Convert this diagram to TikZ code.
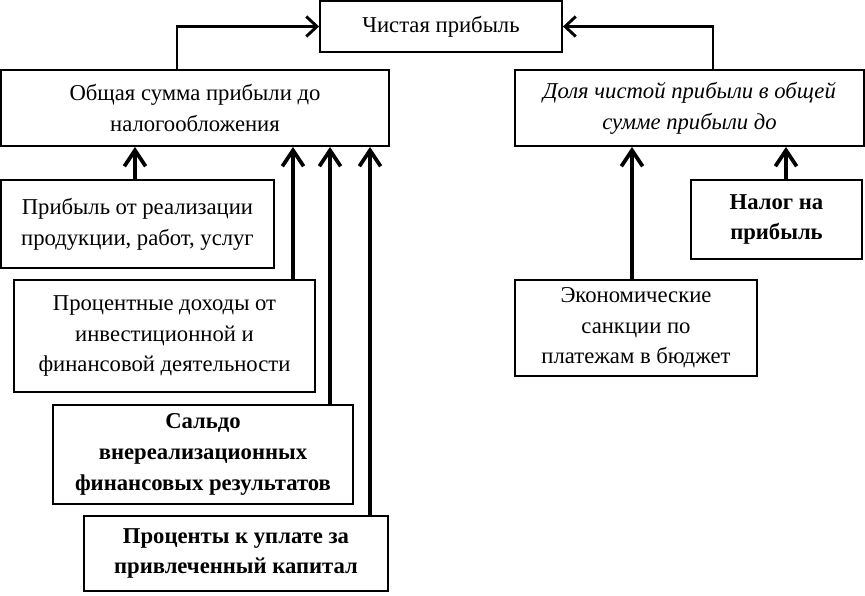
\documentclass[tikz,border=0pt]{standalone}
\usepackage{fontspec}
\setmainfont{Liberation Serif}
\usetikzlibrary{arrows.meta}
\tikzset{
  box/.style={draw, line width=1.4pt, rectangle, align=center, inner sep=0pt,
    font=\fontsize{17}{23}\selectfont},
  boxsize/.style 2 args={minimum width=#1*0.75pt, minimum height=#2*0.75pt},
  toparrow/.style={line width=2.2pt, -{Straight Barb[length=8pt,width=15pt]}},
  uparrow/.style={line width=2.8pt, -{Straight Barb[length=12pt,width=16pt]}}
}
\begin{document}
\begin{tikzpicture}[x=0.75pt,y=-0.75pt]
    \useasboundingbox (0,0) rectangle (865,596);
    \node[box, boxsize={242}{51}] (net) at (441,26.5) {Чистая прибыль};
    \node[box, boxsize={388}{76}] (total) at (195,108)
        {Общая сумма прибыли до\\налогообложения};
    \node[box, boxsize={349}{76}, font=\fontsize{17}{23}\selectfont\itshape] (share) at (689.5,108)
        {Доля чистой прибыли в общей\\сумме прибыли до};
    \node[box, boxsize={273}{88}] (sales) at (137.5,224)
        {Прибыль от реализации\\продукции, работ, услуг};
    \node[box, boxsize={301}{112}] (income) at (164.5,336)
        {Процентные доходы от\\инвестиционной и\\финансовой деятельности};
    \node[box, boxsize={300}{99}, font=\fontsize{17}{23}\selectfont\bfseries] (saldo) at (203,454.5)
        {Сальдо\\внереализационных\\финансовых результатов};
    \node[box, boxsize={304}{75}, font=\fontsize{17}{23}\selectfont\bfseries] (paid) at (236,553.5)
        {Проценты к уплате за\\привлеченный капитал};
    \node[box, boxsize={242}{96}] (sanct) at (636,328)
        {Экономические\\санкции по\\платежам в бюджет};
    \node[box, boxsize={171}{79}, font=\fontsize{17}{23}\selectfont\bfseries] (tax) at (776.5,219.5)
        {Налог на\\прибыль};
    \coordinate (lturn) at (177,26.5);
    \coordinate (rturn) at (713,26.5);
    \coordinate (c1) at (135,0);
    \coordinate (c2) at (293,0);
    \coordinate (c3) at (330,0);
    \coordinate (c4) at (370,0);
    \coordinate (c5) at (632,0);
    \coordinate (c6) at (786,0);
    \draw[toparrow] (total.north -| lturn) |- (net.west);
    \draw[toparrow] (share.north -| rturn) |- (net.east);
    \draw[uparrow] (sales.north -| c1) -- (total.south -| c1);
    \draw[uparrow] (income.north -| c2) -- (total.south -| c2);
    \draw[uparrow] (saldo.north -| c3) -- (total.south -| c3);
    \draw[uparrow] (paid.north -| c4) -- (total.south -| c4);
    \draw[uparrow] (sanct.north -| c5) -- (share.south -| c5);
    \draw[uparrow] (tax.north -| c6) -- (share.south -| c6);
\end{tikzpicture}
\end{document}
